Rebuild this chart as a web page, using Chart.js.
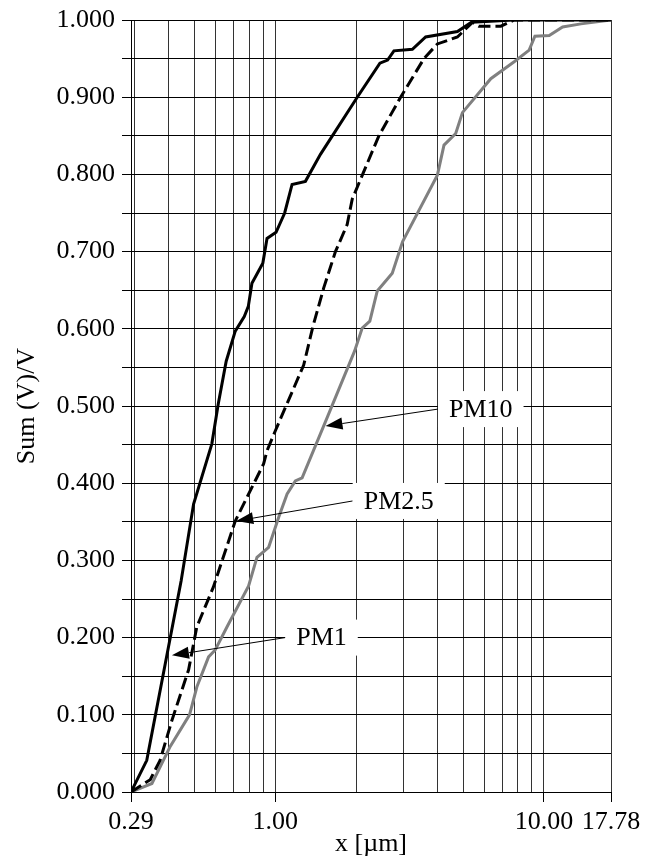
<!DOCTYPE html>
<html>
<head>
<meta charset="utf-8">
<script src="https://cdn.jsdelivr.net/npm/chart.js@4.4.0/dist/chart.umd.min.js"></script>
<style>
html,body{margin:0;padding:0;background:#fff;}
#wrap{width:649px;height:859px;}
</style>
</head>
<body>
<div id="wrap"><canvas id="c" width="649" height="859"></canvas></div>
<script>
// x in µm, y = Sum(V)/V
const pm1X = [0.29,0.332,0.446,0.496,0.580,0.613,0.656,0.709,0.766,0.793,0.818,0.898,0.931,1.006,1.083,1.154,1.294,1.472,2.018,2.451,2.618,2.764,3.238,3.628,4.764,5.373,7.73,17.78];
const pm1Y = [0,0.041,0.274,0.373,0.451,0.503,0.558,0.597,0.616,0.629,0.659,0.685,0.717,0.725,0.750,0.787,0.791,0.826,0.900,0.944,0.948,0.960,0.962,0.978,0.985,0.997,1.0,1.0];

const pm25X = [0.29,0.342,0.372,0.412,0.475,0.510,0.587,0.709,0.904,0.931,1.0,1.275,1.380,1.514,1.674,1.851,1.933,2.429,2.927,3.576,4.012,4.764,5.420,5.722,6.914,7.75,17.78];
const pm25Y = [0,0.016,0.041,0.093,0.158,0.214,0.265,0.351,0.425,0.442,0.468,0.553,0.603,0.653,0.700,0.735,0.768,0.850,0.900,0.950,0.969,0.978,0.997,0.992,0.992,1.0,1.0];

const pm10X = [0.29,0.347,0.378,0.406,0.479,0.510,0.564,0.597,0.661,0.795,0.854,0.944,1.029,1.106,1.187,1.258,1.559,1.972,2.106,2.248,2.396,2.725,2.978,4.012,4.246,4.695,4.973,6.342,7.75,8.815,9.257,10.47,11.74,13.74,17.78];
const pm10Y = [0,0.011,0.037,0.059,0.100,0.136,0.175,0.184,0.214,0.267,0.304,0.317,0.356,0.386,0.403,0.407,0.485,0.571,0.601,0.610,0.649,0.672,0.713,0.799,0.838,0.853,0.880,0.924,0.946,0.961,0.979,0.980,0.991,0.995,1.0];

const xGridValues = [0.29,0.3,0.4,0.5,0.6,0.7,0.8,0.9,1,2,3,4,5,6,7,8,9,10,17.78];
const xLabelValues = [0.29,1,10,17.78];

// callout labels: text, label centre, arrow tip (data coords)
const noteText = ['PM10','PM2.5','PM1'];
const noteX = [5.82,2.88,1.485];
const noteY = [0.496,0.377,0.200];
const tipX = [1.537,0.715,0.412];
const tipY = [0.474,0.351,0.177];

const serif = '"Liberation Serif", "Times New Roman", serif';

function pts(xs, ys){ return xs.map((v,i)=>({x:v, y:ys[i]})); }

const notePlugin = {
    id: 'notes',
    afterDatasetsDraw(chart){
        const ctx = chart.ctx, x = chart.scales.x, y = chart.scales.y;
        ctx.save();
        ctx.font = '26px ' + serif;
        ctx.textAlign = 'center';
        ctx.textBaseline = 'middle';
        noteText.forEach((t,i)=>{
            const cx = x.getPixelForValue(noteX[i]), cy = y.getPixelForValue(noteY[i]);
            const w = ctx.measureText(t).width + 22, h = 36;
            const tx = x.getPixelForValue(tipX[i]), ty = y.getPixelForValue(tipY[i]);
            const sx = cx - w/2, sy = cy;
            const ang = Math.atan2(ty-sy, tx-sx);
            const hl = 17, hw = 6;
            const bx = tx - hl*Math.cos(ang), by = ty - hl*Math.sin(ang);
            ctx.strokeStyle = '#000'; ctx.fillStyle = '#000'; ctx.lineWidth = 1;
            ctx.beginPath(); ctx.moveTo(sx,sy); ctx.lineTo(bx,by); ctx.stroke();
            ctx.beginPath();
            ctx.moveTo(tx,ty);
            ctx.lineTo(bx + hw*Math.sin(ang), by - hw*Math.cos(ang));
            ctx.lineTo(bx - hw*Math.sin(ang), by + hw*Math.cos(ang));
            ctx.closePath(); ctx.fill();
            ctx.fillStyle = '#fff';
            ctx.fillRect(sx, cy-h/2, w, h);
            ctx.fillStyle = '#000';
            ctx.fillText(t, cx, cy+1);
        });
        ctx.restore();
    }
};

new Chart(document.getElementById('c'), {
    type: 'line',
    data: {
        datasets: [
            { label:'PM1', data: pts(pm1X, pm1Y), borderColor:'#000', borderWidth:3, pointRadius:0, tension:0 },
            { label:'PM2.5', data: pts(pm25X, pm25Y), borderColor:'#000', borderWidth:3, borderDash:[12,5], pointRadius:0, tension:0 },
            { label:'PM10', data: pts(pm10X, pm10Y), borderColor:'#808080', borderWidth:3, pointRadius:0, tension:0 }
        ]
    },
    options: {
        responsive:false,
        animation:false,
        devicePixelRatio:1,
        layout:{ padding:{ left:0, right:38, top:18, bottom:0 } },
        plugins:{ legend:{display:false}, tooltip:{enabled:false} },
        scales:{
            x:{
                type:'logarithmic',
                min:0.29, max:17.78,
                afterBuildTicks(s){ s.ticks = xGridValues.map(v=>({value:v})); },
                afterFit(s){ s.height = 67; },
                ticks:{
                    autoSkip:false, maxRotation:0, padding:7,
                    color:'#000', font:{family:serif, size:26, lineHeight:1},
                    callback(v){ return xLabelValues.includes(v) ? Number(v).toFixed(2) : ''; }
                },
                grid:{
                    color:'#333', lineWidth:1, tickLength:10,
                    tickColor(c){ return xLabelValues.includes(c.tick && c.tick.value) ? '#000' : 'rgba(0,0,0,0)'; }
                },
                border:{ color:'#000', width:1 },
                title:{ display:true, text:'x [µm]', color:'#000', font:{family:serif, size:26, lineHeight:1}, padding:{top:0, bottom:2} }
            },
            y:{
                min:0, max:1,
                afterFit(s){ s.width = 131; },
                ticks:{
                    stepSize:0.05, padding:7, autoSkip:false,
                    color:'#000', font:{family:serif, size:26, lineHeight:1},
                    callback(v){ return Math.round(v*100) % 10 === 0 ? Number(v).toFixed(3) : ''; }
                },
                grid:{ color:'#000', lineWidth:1, tickLength:9, tickColor:'#000' },
                border:{ color:'#000', width:1 },
                title:{ display:true, text:'Sum (V)/V', color:'#000', font:{family:serif, size:26, lineHeight:1}, padding:{top:14, bottom:0} }
            }
        }
    },
    plugins:[notePlugin]
});
</script>
</body>
</html>
